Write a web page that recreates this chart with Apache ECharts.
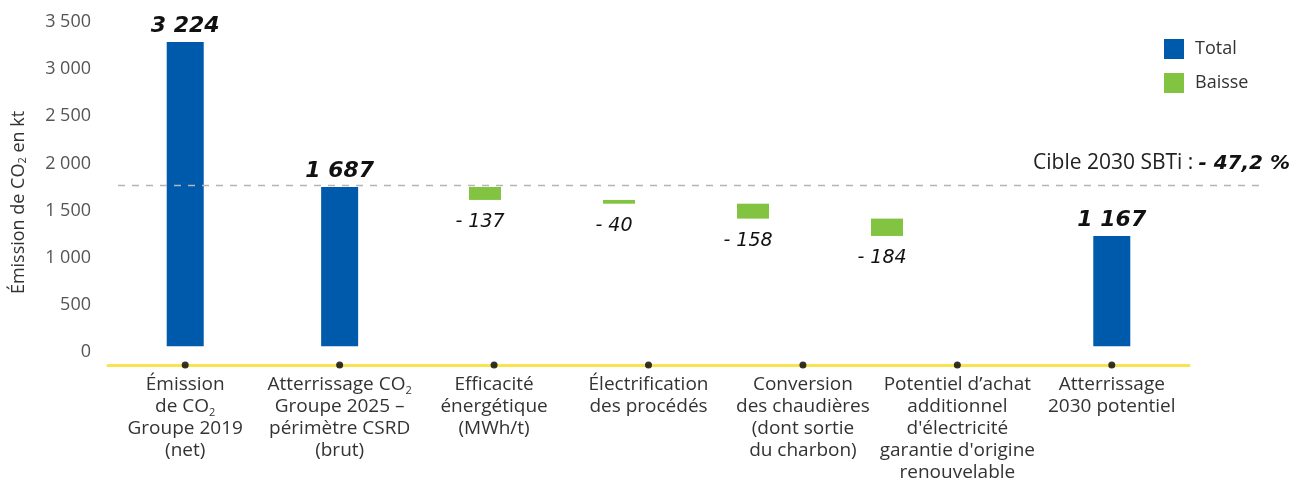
<!DOCTYPE html>
<html>
<head>
<meta charset="utf-8">
<script src="https://cdn.jsdelivr.net/npm/echarts@6/dist/echarts.min.js"></script>
<style>
  html, body { margin: 0; padding: 0; background: #fff; }
  #chart { width: 1308px; height: 481px; }
</style>
</head>
<body>
<div id="chart"></div>
<script>
const categories = [
  'Émission\nde CO₂\nGroupe 2019\n(net)',
  'Atterrissage CO₂\nGroupe 2025 –\npérimètre CSRD\n(brut)',
  'Efficacité\nénergétique\n(MWh/t)',
  'Électrification\ndes procédés',
  'Conversion\ndes chaudières\n(dont sortie\ndu charbon)',
  'Potentiel d’achat\nadditionnel\nd\'électricité\ngarantie d\'origine\nrenouvelable',
  'Atterrissage\n2030 potentiel'
];
const totals = [3224, 1687, null, null, null, null, 1167];
const drops = [null, null, 137, 40, 158, 184, null];
const yTicks = [0, 500, 1000, 1500, 2000, 2500, 3000, 3500];
const targetPct = 47.2;

const yMin = -200;
const yMax = 3500;
const target = totals[0] * (1 - targetPct / 100);

// invisible base under each drop
let running = totals[1];
const dropBase = drops.map(d => {
  if (d == null) return '-';
  running -= d;
  return running;
});

const fmt = v => String(v).replace(/\B(?=(\d{3})+(?!\d))/g, ' ');

const chart = echarts.init(document.getElementById('chart'));

const hiddenY = idx => ({
  type: 'value', gridIndex: idx, min: yMin, max: yMax, show: false
});

chart.setOption({
  animation: false,
  title: {
    text: '{a|Cible 2030 SBTi :} {b|- ' + String(targetPct).replace('.', ',') + ' %}',
    right: 13,
    top: 148,
    textStyle: {
      rich: {
        a: { fontFamily: 'Open Sans', fontSize: 21, fontWeight: 'normal', color: '#222' },
        b: { fontFamily: 'DejaVu Sans', fontSize: 20, fontWeight: 'bold', fontStyle: 'italic', color: '#111' }
      }
    }
  },
  legend: {
    data: ['Total', 'Baisse'],
    orient: 'vertical',
    left: 1164,
    top: 39,
    padding: 0,
    icon: 'rect',
    itemWidth: 20,
    itemHeight: 20,
    itemGap: 14,
    textStyle: { fontFamily: 'Open Sans', fontSize: 18, color: '#333', padding: [0, 0, 0, 6] }
  },
  grid: [
    { left: 108, right: 119, top: 16, bottom: 116, outerBoundsMode: 'none' },
    { left: 150, right: 220, top: 16, bottom: 116, outerBoundsMode: 'none' },
    { left: 118, right: 48, top: 16, bottom: 116, outerBoundsMode: 'none' }
  ],
  xAxis: [
    {
      type: 'category',
      gridIndex: 0,
      data: categories,
      axisLine: { onZero: false, lineStyle: { color: '#f7e44f', width: 3 } },
      axisTick: { show: false },
      axisLabel: {
        interval: 0,
        margin: 9,
        fontFamily: 'Open Sans',
        fontSize: 19,
        lineHeight: 22,
        color: '#333',
        formatter: v => v.replace(/₂/g, '{s|2}'),
        rich: {
          s: { fontFamily: 'Open Sans', fontSize: 11, color: '#333', verticalAlign: 'bottom', lineHeight: 12 }
        }
      }
    },
    { type: 'category', gridIndex: 1, data: categories, show: false },
    { type: 'value', gridIndex: 2, min: 0, max: 1, show: false }
  ],
  yAxis: [
    {
      type: 'value',
      gridIndex: 0,
      min: yMin,
      max: yMax,
      axisLine: { show: false },
      axisTick: { show: false },
      splitLine: { show: false },
      axisLabel: {
        customValues: yTicks,
        margin: 17,
        fontFamily: 'Open Sans',
        fontSize: 18,
        color: '#555',
        verticalAlign: 'top',
        lineHeight: 12,
        formatter: v => fmt(v)
      },
      name: '{a|Émission de CO}{s|2}{a| en kt}',
      nameLocation: 'middle',
      nameGap: 80,
      nameTextStyle: {
        padding: [0, 24, 0, 0],
        rich: {
          a: { fontFamily: 'Open Sans', fontSize: 18, color: '#333' },
          s: { fontFamily: 'Open Sans', fontSize: 11, color: '#333', verticalAlign: 'bottom', lineHeight: 12 }
        }
      }
    },
    hiddenY(1),
    hiddenY(2)
  ],
  series: [
    {
      name: 'Total',
      type: 'bar',
      xAxisIndex: 0,
      yAxisIndex: 0,
      barWidth: 37,
      itemStyle: { color: '#005aab' },
      label: {
        show: true,
        position: 'top',
        distance: 5,
        fontFamily: 'DejaVu Sans',
        fontSize: 22,
        fontWeight: 'bold',
        fontStyle: 'italic',
        color: '#111',
        formatter: p => fmt(p.value)
      },
      data: totals.map(v => (v == null ? '-' : v))
    },
    {
      name: 'base',
      type: 'bar',
      xAxisIndex: 1,
      yAxisIndex: 1,
      stack: 'drop',
      barWidth: 32,
      itemStyle: { color: 'transparent' },
      silent: true,
      data: dropBase
    },
    {
      name: 'Baisse',
      type: 'bar',
      xAxisIndex: 1,
      yAxisIndex: 1,
      stack: 'drop',
      barWidth: 32,
      itemStyle: { color: '#82c341' },
      label: {
        show: true,
        position: 'bottom',
        distance: 13,
        offset: [-5, 0],
        fontFamily: 'DejaVu Sans',
        fontSize: 19,
        fontStyle: 'italic',
        color: '#111',
        formatter: p => '- ' + fmt(p.value)
      },
      data: drops.map(v => (v == null ? '-' : v))
    },
    {
      name: 'points',
      type: 'scatter',
      xAxisIndex: 0,
      yAxisIndex: 0,
      clip: false,
      symbolSize: 7,
      itemStyle: { color: '#000' },
      silent: true,
      z: 5,
      data: categories.map(() => yMin)
    },
    {
      name: 'cible',
      type: 'line',
      xAxisIndex: 2,
      yAxisIndex: 2,
      symbol: 'none',
      silent: true,
      lineStyle: { color: '#b5b5b5', width: 1.5, type: [7, 7] },
      data: [[0, target], [1, target]]
    }
  ]
});
</script>
</body>
</html>
